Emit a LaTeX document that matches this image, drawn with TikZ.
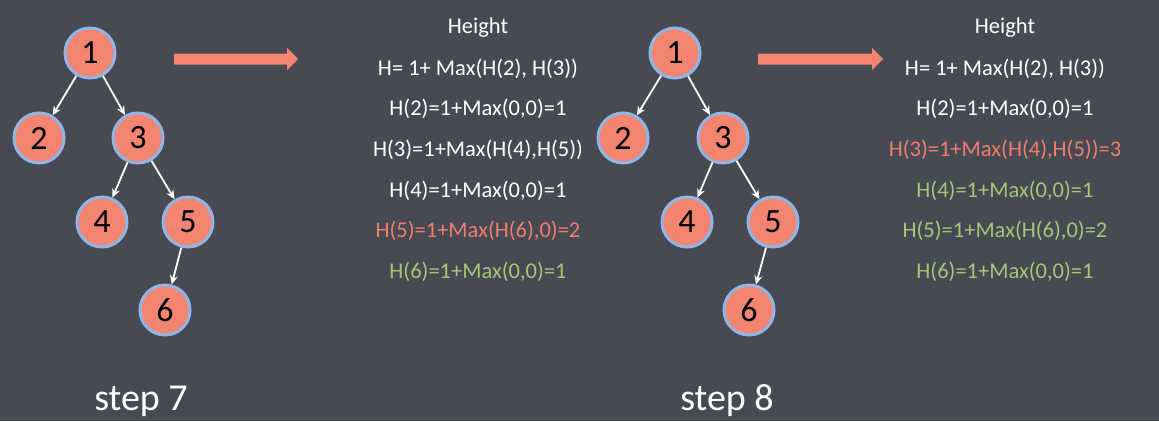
\documentclass[tikz,border=0pt]{standalone}
\usepackage{fontspec}
\setmainfont{Carlito}
\usetikzlibrary{arrows.meta}
\definecolor{bg}{HTML}{474A52}
\definecolor{salmon}{HTML}{F3846F}
\definecolor{rim}{HTML}{8FB6E4}
\definecolor{hgreen}{HTML}{A6C675}
\definecolor{hred}{HTML}{EE7F6C}
\tikzset{
  tnode/.style={circle, fill=salmon, draw=rim, line width=3pt, minimum size=50pt, inner sep=0pt,
    font=\fontsize{34}{34}\selectfont, text=black},
  edge/.style={draw=white, line width=1.8pt, -{Stealth[length=9pt,width=8pt]}},
  formula/.style={anchor=base, font=\fontsize{22.5}{24}\selectfont, text=white, inner sep=0pt},
  steplabel/.style={anchor=base, font=\fontsize{38}{40}\selectfont, text=white, inner sep=0pt},
  bigarrow/.style={fill=salmon, draw=none}
}
\begin{document}
\begin{tikzpicture}[x=1pt,y=-1pt]
\fill[bg] (0,0) rectangle (1159,421);
\useasboundingbox (0,0) rectangle (1159,421);
% ---------- step 7 ----------
\node[tnode] (a1) at (90,53) {1};
\node[tnode] (a2) at (39,138) {2};
\node[tnode] (a3) at (138,138) {3};
\node[tnode] (a4) at (102,222) {4};
\node[tnode] (a5) at (188,222) {5};
\node[tnode] (a6) at (165,310) {6};
\draw[edge] (a1) -- (a2);
\draw[edge] (a1) -- (a3);
\draw[edge] (a3) -- (a4);
\draw[edge] (a3) -- (a5);
\draw[edge] (a5) -- (a6);
\fill[bigarrow] (174,53.5) -- (287,53.5) -- (287,48) -- (298,59) -- (287,70) -- (287,64.5) -- (174,64.5) -- cycle;
\node[formula] (l0) at (478,33) {Height};
\node[formula] (l1) at (478,75) {H= 1+ Max(H(2), H(3))};
\node[formula] (l2) at (478,115) {H(2)=1+Max(0,0)=1};
\node[formula] (l3) at (478,156) {H(3)=1+Max(H(4),H(5))};
\node[formula] (l4) at (478,197) {H(4)=1+Max(0,0)=1};
\node[formula, text=hred] (l5) at (478,237) {H(5)=1+Max(H(6),0)=2};
\node[formula, text=hgreen] (l6) at (478,278) {H(6)=1+Max(0,0)=1};
\node[steplabel] (s7) at (141,410) {step 7};
% ---------- step 8 ----------
\node[tnode] (b1) at (675,53) {1};
\node[tnode] (b2) at (623,138) {2};
\node[tnode] (b3) at (723,138) {3};
\node[tnode] (b4) at (687,222) {4};
\node[tnode] (b5) at (773,222) {5};
\node[tnode] (b6) at (749,310) {6};
\draw[edge] (b1) -- (b2);
\draw[edge] (b1) -- (b3);
\draw[edge] (b3) -- (b4);
\draw[edge] (b3) -- (b5);
\draw[edge] (b5) -- (b6);
\fill[bigarrow] (758,53.5) -- (872,53.5) -- (872,48) -- (883,59) -- (872,70) -- (872,64.5) -- (758,64.5) -- cycle;
\node[formula] (r0) at (1005,33) {Height};
\node[formula] (r1) at (1005,75) {H= 1+ Max(H(2), H(3))};
\node[formula] (r2) at (1005,115) {H(2)=1+Max(0,0)=1};
\node[formula, text=hred] (r3) at (1005,156) {H(3)=1+Max(H(4),H(5))=3};
\node[formula, text=hgreen] (r4) at (1005,197) {H(4)=1+Max(0,0)=1};
\node[formula, text=hgreen] (r5) at (1005,237) {H(5)=1+Max(H(6),0)=2};
\node[formula, text=hgreen] (r6) at (1005,278) {H(6)=1+Max(0,0)=1};
\node[steplabel] (s8) at (727,410) {step 8};
\end{tikzpicture}
\end{document}
